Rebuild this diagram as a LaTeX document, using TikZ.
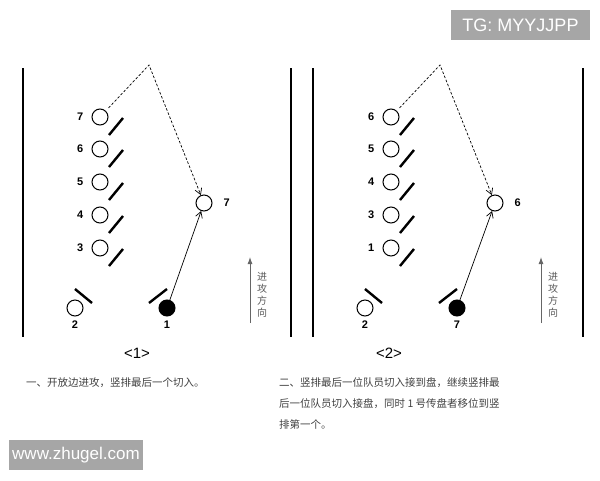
\documentclass[tikz,border=0pt]{standalone}
\usepackage{fontspec}
\setmainfont{Liberation Sans}
\newfontfamily\cjk{Noto Sans CJK SC}
\usetikzlibrary{positioning,arrows.meta}

\tikzset{
    player/.style={circle,draw,line width=1pt,minimum size=16pt,inner sep=0pt},
    holder/.style={player,fill=black},
    num/.style={font=\bfseries\fontsize{11}{13}\selectfont,inner sep=0pt},
    slashline/.style={line width=2.4pt},
    sideline/.style={line width=1.7pt},
    throw/.style={-{Straight Barb[length=6pt,width=7pt]},line width=0.7pt},
    run/.style={-{Straight Barb[length=6pt,width=7pt]},line width=0.7pt,dash pattern=on 2.6pt off 1.8pt,shorten <=4pt},
    attack/.style={-{Latex[length=7pt,width=5pt]},line width=0.9pt,black!60},
    caption/.style={font=\cjk\fontsize{10.5}{21}\selectfont,text=black!75,inner sep=0pt,anchor=west,align=left},
    badge/.style={fill=black!35,text=white,inner sep=0pt}
}

\begin{document}
\begin{tikzpicture}[x=1pt,y=-1pt]
    \useasboundingbox (0,0) rectangle (600,480);

    % panel 1
    \draw[sideline] (23,68) -- (23,337);
    \draw[sideline] (291,68) -- (291,337);
    \node[player] (a7) at (100,117) {};
    \node[player] (a6) at (100,149) {};
    \node[player] (a5) at (100,182) {};
    \node[player] (a4) at (100,215) {};
    \node[player] (a3) at (100,248) {};
    \node[num,left=8pt of a7] (la7) {7};
    \node[num,left=8pt of a6] (la6) {6};
    \node[num,left=8pt of a5] (la5) {5};
    \node[num,left=8pt of a4] (la4) {4};
    \node[num,left=8pt of a3] (la3) {3};
    \draw[slashline] ([shift={(9,18)}]a7.center) -- ++(14,-17);
    \draw[slashline] ([shift={(9,18)}]a6.center) -- ++(14,-17);
    \draw[slashline] ([shift={(9,18)}]a5.center) -- ++(14,-17);
    \draw[slashline] ([shift={(9,18)}]a4.center) -- ++(14,-17);
    \draw[slashline] ([shift={(9,18)}]a3.center) -- ++(14,-17);
    \node[player] (a2) at (75,308) {};
    \node[holder] (a1) at (167,308) {};
    \node[num,below=4pt of a2] (la2) {2};
    \node[num,below=4pt of a1] (la1) {1};
    \draw[slashline] ([shift={(0,-19)}]a2.center) -- ++(17,14);
    \draw[slashline] ([shift={(-18,-5)}]a1.center) -- ++(18,-14);
    \node[player] (b7) at (204,203) {};
    \node[num,right=11pt of b7] (lb7) {7};
    \coordinate (top1) at (149,65);
    \draw[throw] (a1) -- (b7);
    \draw[run] (a7) -- (top1) -- (b7);
    \coordinate (dir1s) at (250,323);
    \coordinate (dir1e) at (250,257);
    \draw[attack] (dir1s) -- (dir1e);
    \node[font=\cjk\fontsize{10}{12}\selectfont,text=black!65,align=center,inner sep=0pt]
        (dir1) at (262,295) {进\\攻\\方\\向};

    % panel 2
    \begin{scope}[xshift=291pt]
    \draw[sideline] (22,68) -- (22,337);
    \draw[sideline] (292,68) -- (292,337);
    \node[player] (c6) at (100,117) {};
    \node[player] (c5) at (100,149) {};
    \node[player] (c4) at (100,182) {};
    \node[player] (c3) at (100,215) {};
    \node[player] (c1) at (100,248) {};
    \node[num,left=8pt of c6] (lc6) {6};
    \node[num,left=8pt of c5] (lc5) {5};
    \node[num,left=8pt of c4] (lc4) {4};
    \node[num,left=8pt of c3] (lc3) {3};
    \node[num,left=8pt of c1] (lc1) {1};
    \draw[slashline] ([shift={(9,18)}]c6.center) -- ++(14,-17);
    \draw[slashline] ([shift={(9,18)}]c5.center) -- ++(14,-17);
    \draw[slashline] ([shift={(9,18)}]c4.center) -- ++(14,-17);
    \draw[slashline] ([shift={(9,18)}]c3.center) -- ++(14,-17);
    \draw[slashline] ([shift={(9,18)}]c1.center) -- ++(14,-17);
    \node[player] (c2) at (74,308) {};
    \node[holder] (c7) at (166,308) {};
    \node[num,below=4pt of c2] (lc2) {2};
    \node[num,below=4pt of c7] (lc7) {7};
    \draw[slashline] ([shift={(0,-19)}]c2.center) -- ++(17,14);
    \draw[slashline] ([shift={(-18,-5)}]c7.center) -- ++(18,-14);
    \node[player] (d6) at (204,203) {};
    \node[num,right=11pt of d6] (ld6) {6};
    \coordinate (top2) at (149,65);
    \draw[throw] (c7) -- (d6);
    \draw[run] (c6) -- (top2) -- (d6);
    \coordinate (dir2s) at (250,323);
    \coordinate (dir2e) at (250,257);
    \draw[attack] (dir2s) -- (dir2e);
    \node[font=\cjk\fontsize{10}{12}\selectfont,text=black!65,align=center,inner sep=0pt]
        (dir2) at (262,295) {进\\攻\\方\\向};
    \end{scope}

    % captions
    \node[font=\fontsize{15}{17}\selectfont] (t1) at (137,353) {<1>};
    \node[font=\fontsize{15}{17}\selectfont] (t2) at (389,353) {<2>};
    \node[caption] (cap1) at (26,383) {一、开放边进攻，竖排最后一个切入。};
    \node[caption,anchor=north west] (cap2) at (279,377)
        {二、竖排最后一位队员切入接到盘，继续竖排最\\后一位队员切入接盘，同时 1 号传盘者移位到竖\\排第一个。};

    % watermarks
    \node[badge,font=\fontsize{17}{19}\selectfont,minimum width=134pt,minimum height=30pt] (web) at (76,455) {www.zhugel.com};
    \node[badge,font=\fontsize{18}{20}\selectfont,minimum width=139pt,minimum height=30pt] (tg) at (520.5,25) {TG: MYYJJPP};
\end{tikzpicture}
\end{document}
